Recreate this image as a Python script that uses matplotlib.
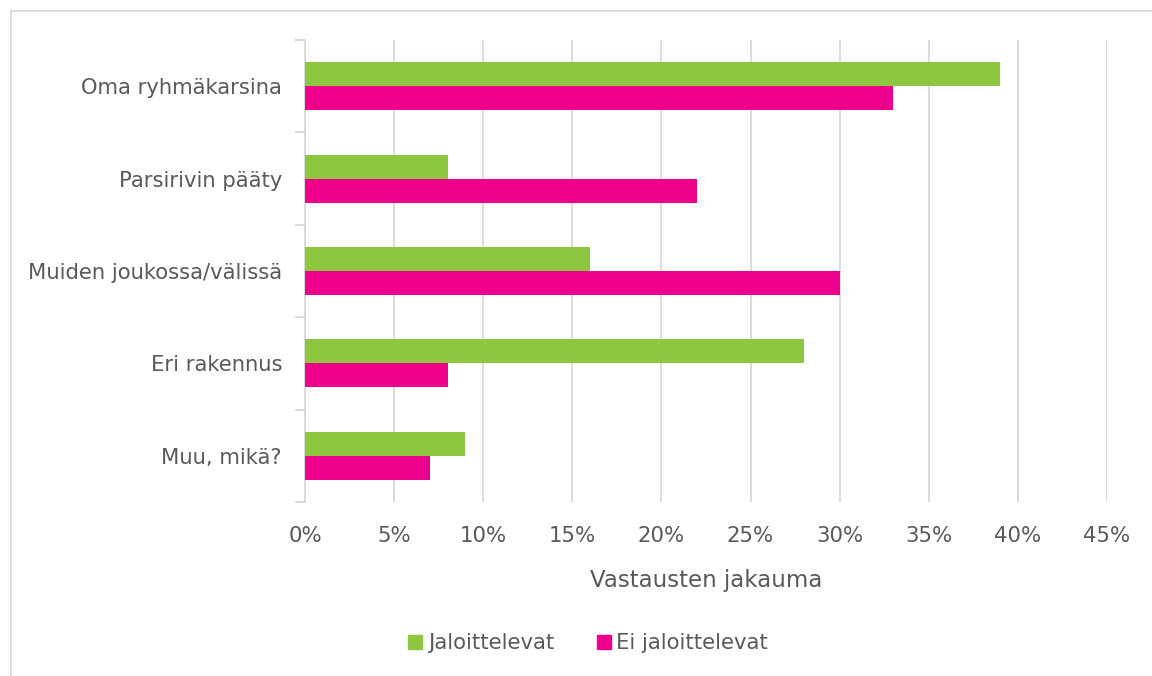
import matplotlib
matplotlib.use("Agg")
import matplotlib.pyplot as plt
import numpy as np
from matplotlib.lines import Line2D
from matplotlib.ticker import FixedLocator, PercentFormatter

categories = ["Oma ryhmäkarsina", "Parsirivin pääty", "Muiden joukossa/välissä",
              "Eri rakennus", "Muu, mikä?"]
jaloittelevat = [39, 8, 16, 28, 9]
ei_jaloittelevat = [33, 22, 30, 8, 7]
series_names = ["Jaloittelevat", "Ei jaloittelevat"]
x_ticks = [0, 5, 10, 15, 20, 25, 30, 35, 40, 45]
x_label = "Vastausten jakauma"

GREEN = "#8DC63F"
PINK = "#EC008C"
TEXT = "#595959"
GRID = "#D9D9D9"

plt.rcParams['font.family'] = ['DejaVu Sans']

W, H = 1152, 676
fig = plt.figure(figsize=(W / 100, H / 100), dpi=100)
ax = fig.add_axes([305 / W, 1 - 502 / H, (1107 - 305) / W, (502 - 40) / H])

y = np.arange(len(categories))
h = 0.26
ax.barh(y - h / 2, jaloittelevat, height=h, color=GREEN, label=series_names[0], zorder=3)
ax.barh(y + h / 2, ei_jaloittelevat, height=h, color=PINK, label=series_names[1], zorder=3)

ax.set_ylim(len(categories) - 0.5, -0.5)
ax.set_xlim(0, 45)

ax.xaxis.set_major_locator(FixedLocator(x_ticks))
ax.xaxis.set_major_formatter(PercentFormatter(decimals=0))
ax.grid(axis='x', color=GRID, linewidth=1.3, zorder=0)
ax.tick_params(axis='x', length=0, pad=17.5, labelsize=15.3, labelcolor=TEXT)

ax.set_yticks(y)
ax.set_yticklabels(categories)
ax.yaxis.set_minor_locator(FixedLocator(np.arange(len(categories) + 1) - 0.5))
ax.tick_params(axis='y', which='major', length=0, pad=16.5, labelsize=15.2, labelcolor=TEXT)
ax.tick_params(axis='y', which='minor', length=7, width=1.3, color=GRID)

for s in ['top', 'right', 'bottom']:
    ax.spines[s].set_visible(False)
ax.spines['left'].set_color(GRID)
ax.spines['left'].set_linewidth(1.3)

ax.set_xlabel(x_label, fontsize=16.5, color=TEXT, labelpad=16)

handles = [Line2D([], [], marker='s', linestyle='none', markersize=10,
                  markerfacecolor=c, markeredgecolor=c) for c in (GREEN, PINK)]
leg = fig.legend(handles, series_names, loc='center', bbox_to_anchor=(588 / W, 1 - 643 / H),
                 ncol=2, frameon=False, fontsize=15.2, handlelength=0.7, handletextpad=0.25,
                 columnspacing=2.0, labelcolor=TEXT)

# outer chart frame
fig.add_artist(Line2D([10.5 / W, 10.5 / W], [0, 1 - 10.5 / H], transform=fig.transFigure,
                      color=GRID, linewidth=1.3))
fig.add_artist(Line2D([10.5 / W, 1], [1 - 10.5 / H, 1 - 10.5 / H], transform=fig.transFigure,
                      color=GRID, linewidth=1.3))

fig.savefig("out.png", dpi=100, facecolor='white')
